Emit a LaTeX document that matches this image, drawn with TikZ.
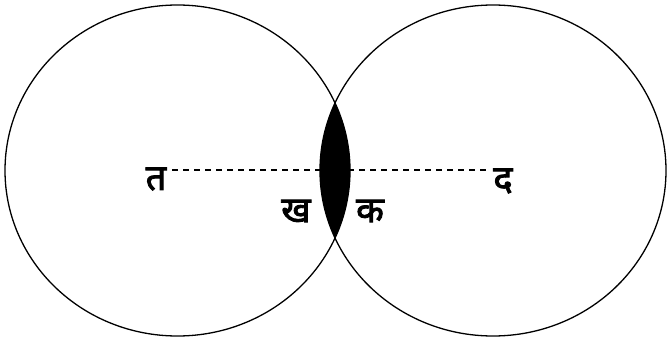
\documentclass[tikz,border=0pt]{standalone}
\usepackage{fontspec}
\newfontfamily\deva[Script=Devanagari,FakeBold=2.5]{Noto Sans}
\tikzset{
  ring/.style={draw=black, line width=1.3pt},
  joinline/.style={draw=black, line width=1.1pt, dash pattern=on 6pt off 5pt},
  lbl/.style={font=\deva\fontsize{36}{36}\selectfont, inner sep=0pt}
}
\begin{document}
\begin{tikzpicture}[x=1pt,y=-1pt]
\useasboundingbox (0,0) rectangle (669,342);
\coordinate (cL) at (177.5,170.5);
\coordinate (cR) at (493,170.5);
\begin{scope}
  \clip (cL) ellipse [x radius=172.5, y radius=165.5];
  \fill[black] (cR) ellipse [x radius=173, y radius=165.5];
\end{scope}
\draw[ring] (cL) ellipse [x radius=172.5, y radius=165.5];
\draw[ring] (cR) ellipse [x radius=173, y radius=165.5];
\node[lbl] (ta) at (156,179) {त};
\node[lbl] (da) at (503,181) {द};
\node[lbl] (kha) at (296,211) {ख};
\node[lbl] (ka) at (370,211) {क};
\coordinate (dl) at (172,170);
\coordinate (dr) at (490,170);
\draw[joinline] (dl) -- (dr);
\end{tikzpicture}
\end{document}
